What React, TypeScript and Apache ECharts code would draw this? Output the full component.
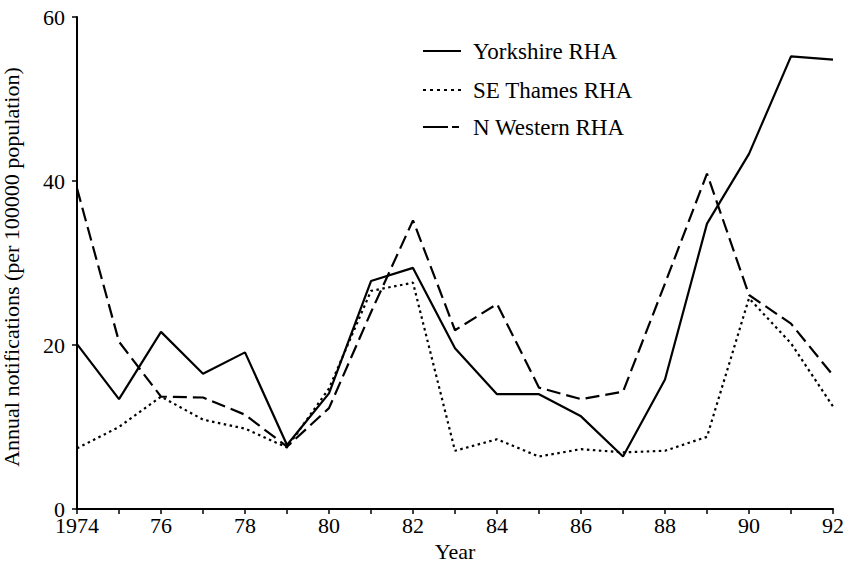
import React, { useEffect, useRef } from "react";
import * as echarts from "echarts";

const years = [1974, 1975, 1976, 1977, 1978, 1979, 1980, 1981, 1982, 1983, 1984, 1985, 1986, 1987, 1988, 1989, 1990, 1991, 1992];
const yorkshire = [20.1, 13.4, 21.6, 16.5, 19.1, 7.8, 14.1, 27.8, 29.4, 19.6, 14.0, 14.0, 11.3, 6.4, 15.8, 34.8, 43.3, 55.2, 54.8];
const seThames = [7.4, 10.0, 13.7, 10.9, 9.8, 7.5, 14.7, 26.6, 27.6, 7.1, 8.5, 6.4, 7.3, 6.9, 7.1, 8.8, 25.7, 20.2, 12.5];
const nWestern = [39.1, 20.4, 13.7, 13.6, 11.5, 7.6, 12.3, 24.0, 35.2, 21.8, 25.0, 14.8, 13.4, 14.3, 27.5, 40.9, 26.1, 22.6, 16.3];
const seriesNames = ["Yorkshire RHA", "SE Thames RHA", "N Western RHA"];
const yTicks = [0, 20, 40, 60];

const FONT = "Liberation Serif, Times New Roman, serif";

export default function App() {
  const ref = useRef<HTMLDivElement>(null);
  useEffect(() => {
    if (!ref.current) return;
    const chart = echarts.init(ref.current, undefined, { renderer: "svg" });
    const toPairs = (vals: number[]) => years.map((y, i) => [y, vals[i]]);
    const lineTypes: any[] = ["solid", [2.5, 3.5], [14, 6]];
    const legendDash: any[] = ["solid", [3, 4], [25, 4, 7, 100]];
    const legendY = [51, 90, 127];
    const data = [yorkshire, seThames, nWestern];
    const legendGraphics: any[] = [];
    seriesNames.forEach((name, i) => {
      legendGraphics.push({
        type: "line",
        shape: { x1: 423, y1: legendY[i], x2: 461, y2: legendY[i] },
        style: { stroke: "#000", lineWidth: 2.2, lineDash: legendDash[i] === "solid" ? null : legendDash[i] },
        silent: true,
      });
      legendGraphics.push({
        type: "text",
        x: 473,
        y: legendY[i],
        style: { text: name, fontFamily: FONT, fontSize: 23, fill: "#000", verticalAlign: "middle", align: "left" },
        silent: true,
      });
    });
    chart.setOption({
      animation: false,
      backgroundColor: "#fff",
      textStyle: { fontFamily: FONT, color: "#000" },
      grid: { left: 77, right: 11, top: 17, bottom: 55, containLabel: false, outerBoundsMode: "none" },
      graphic: legendGraphics,
      xAxis: {
        type: "value",
        min: 1974,
        max: 1992,
        interval: 1,
        name: "Year",
        nameLocation: "middle",
        nameGap: 31,
        nameTextStyle: { fontFamily: FONT, fontSize: 22, color: "#000" },
        axisLine: { lineStyle: { color: "#000", width: 2 } },
        axisTick: { show: true, length: 5, inside: false, lineStyle: { color: "#000", width: 1.5 } },
        axisLabel: {
          fontFamily: FONT,
          fontSize: 22,
          color: "#000",
          margin: 6,
          lineHeight: 20,
          formatter: (v: number) => {
            if (v === years[0]) return String(v);
            if ((v - years[0]) % 2 !== 0) return "";
            return String(v).slice(2);
          },
        },
        splitLine: { show: false },
      },
      yAxis: {
        type: "value",
        min: yTicks[0],
        max: yTicks[yTicks.length - 1],
        interval: 20,
        name: "Annual notifications (per 100000 population)",
        nameLocation: "middle",
        nameGap: 57,
        nameTextStyle: { fontFamily: FONT, fontSize: 22, color: "#000", padding: [0, 8, 0, 0], lineHeight: 18 },
        axisLine: { show: true, lineStyle: { color: "#000", width: 2 } },
        axisTick: { show: true, length: 5, inside: false, lineStyle: { color: "#000", width: 1.5 } },
        axisLabel: { fontFamily: FONT, fontSize: 22, color: "#000", margin: 12, lineHeight: 14 },
        splitLine: { show: false },
      },
      series: data.map((vals, i) => ({
        name: seriesNames[i],
        type: "line",
        data: toPairs(vals),
        showSymbol: false,
        symbol: "none",
        color: "#000",
        lineStyle: { color: "#000", width: 2.2, type: lineTypes[i] },
      })),
    });
    return () => chart.dispose();
  }, []);
  return <div ref={ref} style={{ width: 844, height: 564, position: "absolute", left: 0, top: 0 }} />;
}
